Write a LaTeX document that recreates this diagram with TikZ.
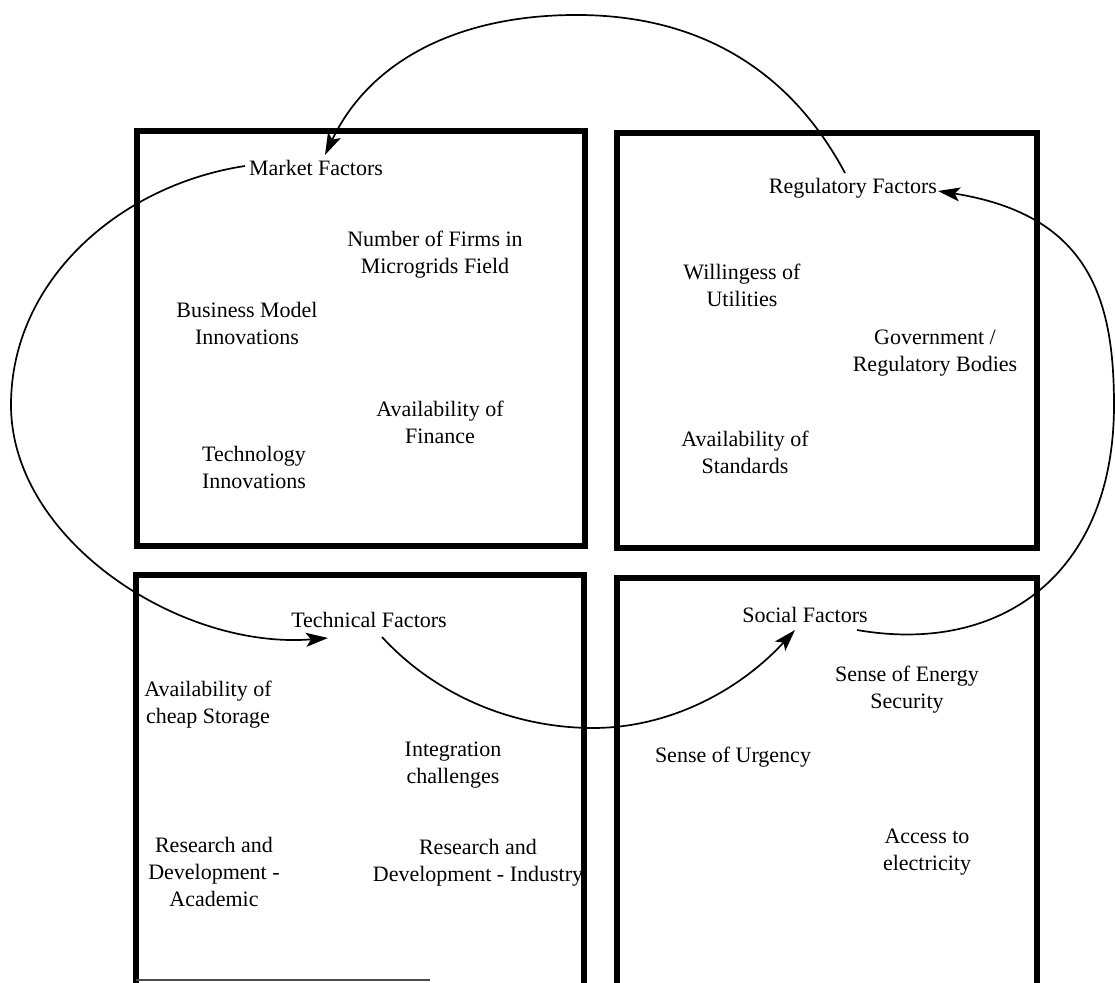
\documentclass[tikz,border=0pt]{standalone}
\usepackage{fontspec}
\setmainfont{Liberation Serif}
\usetikzlibrary{arrows.meta}
\begin{document}
\begin{tikzpicture}[x=0.5pt,y=-0.5pt,
  panel/.style={line width=2.7pt,line join=miter},
  lbl/.style={align=center,font=\fontsize{11}{13.5}\selectfont,inner sep=0pt},
  flow/.style={line width=0.85pt,-{Stealth[length=11pt,width=7pt,inset=2.5pt]}}]
\useasboundingbox (0,0) rectangle (1115,983);

% panels
\draw[panel] (137,131) rectangle (585,546);
\draw[panel] (617,133) rectangle (1037,548);
\draw[panel] (136,983) -- (136,575) -- (584,575) -- (584,983);
\draw[line width=1pt,black!70] (136,980) -- (430,980);
\draw[panel] (617,983) -- (617,578) -- (1037,578) -- (1037,983);

% headings
\node[lbl] (market) at (316,168) {Market Factors};
\node[lbl] (reg) at (853,188) {Regulatory Factors};
\node[lbl] (tech) at (369,620) {Technical Factors};
\node[lbl] (social) at (805,615) {Social Factors};

% market items
\node[lbl] (firms) at (435,255) {Number of Firms in\\Microgrids Field};
\node[lbl] (bmi) at (247,323) {Business Model\\Innovations};
\node[lbl] (fin) at (440,422) {Availability of\\Finance};
\node[lbl] (techinn) at (254,467) {Technology\\Innovations};

% regulatory items
\node[lbl] (util) at (742,285) {Willingess of\\Utilities};
\node[lbl] (gov) at (935,353) {Government /\\Regulatory Bodies};
\node[lbl] (std) at (745,452) {Availability of\\Standards};

% technical items
\node[lbl] (stor) at (208,705) {Availability of\\cheap Storage};
\node[lbl] (integ) at (453,765) {Integration\\challenges};
\node[lbl] (rda) at (214,872) {Research and\\Development -\\Academic};
\node[lbl] (rdi) at (478,863) {Research and\\Development - Industry};

% social items
\node[lbl] (secur) at (907,690) {Sense of Energy\\Security};
\node[lbl] (urg) at (733,757) {Sense of Urgency};
\node[lbl] (elec) at (927,852) {Access to\\electricity};

% cycle arcs
\draw[flow] ([shift={(-8,-15)}]reg.center)
  .. controls (790,70) and (700,16) .. (580,15)
  .. controls (460,14) and (370,60) .. ([shift={(9,-13)}]market.center);
\draw[flow] ([shift={(-71,-2)}]market.center)
  .. controls (120,185) and (11,280) .. (11,405)
  .. controls (11,540) and (180,650) .. ([shift={(-41,18)}]tech.center);
\draw[flow] ([shift={(13,17)}]tech.center)
  .. controls (440,700) and (520,728) .. (593,728)
  .. controls (670,728) and (740,690) .. ([shift={(-10,15)}]social.center);
\draw[flow] ([shift={(52,15)}]social.center)
  .. controls (1000,655) and (1114,575) .. (1114,405)
  .. controls (1114,300) and (1090,215) .. ([shift={(85,3)}]reg.center);
\end{tikzpicture}
\end{document}
